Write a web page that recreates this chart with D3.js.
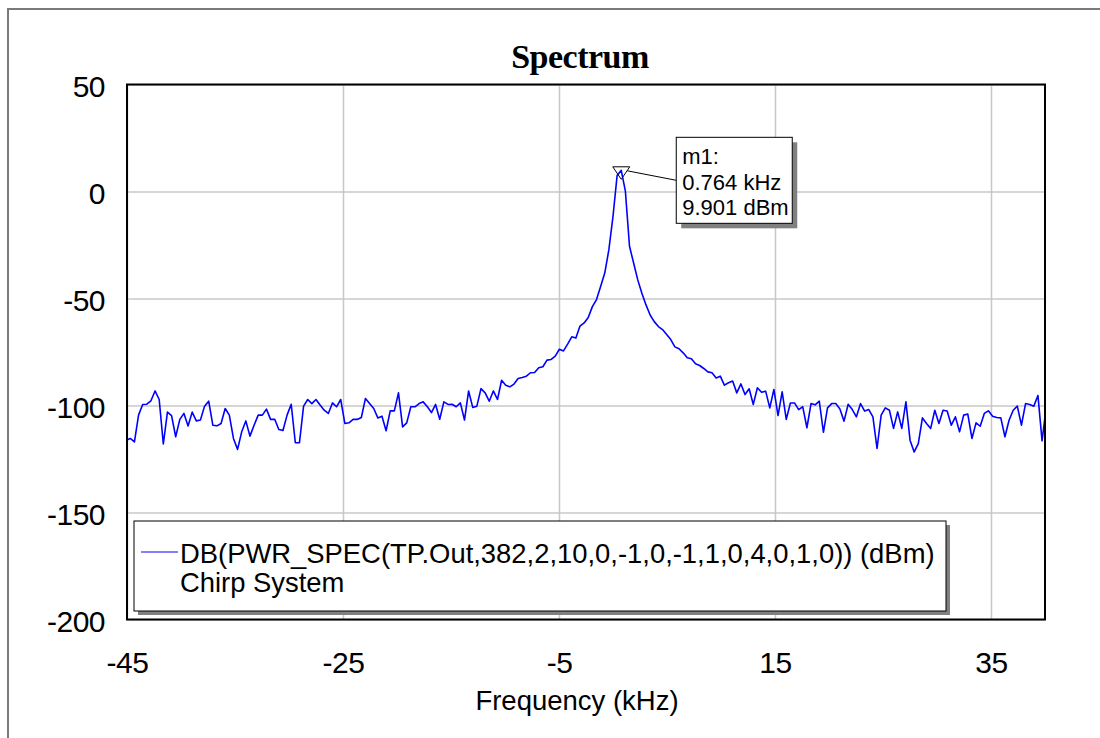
<!DOCTYPE html>
<html>
<head>
<meta charset="utf-8">
<script src="https://cdn.jsdelivr.net/npm/d3@7"></script>
<style>
  body { margin: 0; background: #fff; }
  text { font-family: "Liberation Sans", Arial, sans-serif; fill: #000; }
</style>
</head>
<body>
<svg id="chart" width="1100" height="738"></svg>
<script>
// spectrum bins: frequency of bin k = peakFreq + k * binStep, k starts at firstBin
var peakFreq = 0.764, binStep = 0.382, firstBin = -120;

// power (dBm), one value per bin, left to right
var power = [
  -116.2,-115.4,-117.0,-104.5,-99.5,-99.4,-97.8,-93.2,-97.2,-118.0,
  -103.1,-104.7,-114.6,-106.5,-103.7,-109.6,-103.1,-107.2,-106.8,-100.3,
  -98.0,-109.2,-109.5,-108.4,-101.4,-104.5,-115.4,-120.5,-112.3,-107.2,
  -114.3,-109.2,-104.5,-104.5,-101.7,-106.5,-106.4,-111.2,-111.7,-104.5,
  -99.4,-117.4,-117.4,-100.3,-97.2,-99.1,-97.2,-99.8,-102.2,-103.7,
  -98.8,-100.6,-97.2,-108.4,-108.1,-106.5,-106.5,-105.6,-96.7,-99.1,
  -101.4,-105.8,-105.0,-111.8,-102.5,-102.5,-94.1,-110.0,-108.1,-100.6,
  -100.6,-99.1,-98.3,-100.6,-103.3,-99.5,-106.4,-98.3,-99.5,-99.4,
  -100.6,-98.8,-106.8,-93.2,-100.9,-100.3,-92.1,-94.1,-98.0,-93.2,
  -97.2,-88.2,-90.5,-91.3,-90.0,-87.4,-86.9,-86.3,-84.7,-84.6,
  -82.4,-81.9,-78.8,-78.5,-76.9,-73.7,-74.5,-71.3,-67.9,-68.5,
  -62.9,-61.4,-58.9,-53.8,-50.5,-44.4,-38.1,-27.2,-11.6,7.5,
  9.901,0.2,-25.6,-33.4,-41.3,-47.5,-53.0,-57.7,-60.8,-63.1,
  -64.5,-66.8,-69.2,-72.6,-73.5,-75.4,-77.7,-78.2,-80.5,-81.3,
  -82.7,-84.3,-84.7,-87.1,-86.3,-90.5,-89.4,-88.6,-94.1,-89.9,
  -94.9,-92.2,-99.5,-91.7,-93.8,-93.3,-101.1,-92.5,-104.7,-93.6,
  -106.5,-98.8,-98.8,-101.9,-100.6,-110.4,-99.1,-99.7,-98.0,-112.5,
  -101.1,-99.1,-99.1,-101.6,-107.3,-99.4,-101.9,-105.3,-99.1,-102.6,
  -101.9,-105.3,-120.1,-104.5,-101.1,-102.2,-110.7,-103.0,-110.7,-98.3,
  -116.2,-121.7,-117.8,-105.8,-108.4,-110.7,-102.2,-108.4,-102.2,-102.6,
  -109.2,-105.3,-112.3,-104.5,-104.0,-115.4,-108.1,-109.7,-103.7,-102.5,
  -105.0,-105.6,-105.8,-114.6,-106.9,-102.2,-100.3,-109.2,-99.1,-99.5,
  -100.3,-95.3,-116.5,-100.6
];

var xTicks = [-45, -25, -5, 15, 35];
var yTicks = [50, 0, -50, -100, -150, -200];

var marker = { name: "m1:", freq: 0.764, value: 9.901 };
var legendLines = ["DB(PWR_SPEC(TP.Out,382,2,10,0,-1,0,-1,1,0,4,0,1,0)) (dBm)", "Chirp System"];

var data = power.map(function (p, i) {
  return { f: peakFreq + (firstBin + i) * binStep, p: p };
});

var margin = {top: 84.5, left: 127},
    width = 918,
    height = 535;

var svg = d3.select("#chart");

// outer frame
svg.append("path")
  .attr("d", "M8,738V9H1100")
  .attr("fill", "none")
  .attr("stroke", "#7a7a7a")
  .attr("stroke-width", 2);

svg.append("text")
  .attr("x", 580)
  .attr("y", 68)
  .attr("text-anchor", "middle")
  .style("font-family", "'Liberation Serif', 'Times New Roman', serif")
  .style("font-weight", "bold")
  .style("font-size", "34px")
  .style("letter-spacing", "-0.5px")
  .text("Spectrum");

var g = svg.append("g")
  .attr("transform", "translate(" + margin.left + "," + margin.top + ")");

var x = d3.scaleLinear().domain([-45, 40]).range([0, width]);
var y = d3.scaleLinear().domain([-200, 50]).range([height, 0]);

// grid
g.append("g")
  .attr("class", "grid")
  .attr("transform", "translate(0," + height + ")")
  .call(d3.axisBottom(x).tickValues(xTicks).tickSize(-height).tickFormat(""))
  .call(function (s) { s.select(".domain").remove(); });

g.append("g")
  .attr("class", "grid")
  .call(d3.axisLeft(y).tickValues(yTicks).tickSize(-width).tickFormat(""))
  .call(function (s) { s.select(".domain").remove(); });

g.selectAll(".grid line")
  .attr("stroke", "#c8c8c8")
  .attr("stroke-width", 1.5);

// tick labels (plain hyphen minus, like the original)
var plain = function (d) { return String(d); };

var xAxis = g.append("g")
  .attr("transform", "translate(0," + height + ")")
  .call(d3.axisBottom(x).tickValues(xTicks).tickSize(0).tickPadding(32).tickFormat(plain));

var yAxis = g.append("g")
  .call(d3.axisLeft(y).tickValues(yTicks).tickSize(0).tickPadding(22).tickFormat(plain));

[xAxis, yAxis].forEach(function (a) {
  a.select(".domain").remove();
  a.selectAll("text")
    .style("font-family", "'Liberation Sans', Arial, sans-serif")
    .style("font-size", "30px")
    .style("letter-spacing", "-0.5px")
    .attr("fill", "#000");
});
yAxis.selectAll("text").attr("dy", "0.40em");

g.append("text")
  .attr("x", width / 2 - 9)
  .attr("y", height + 90)
  .attr("text-anchor", "middle")
  .style("font-size", "27.5px")
  .text("Frequency (kHz)");

// trace
g.append("clipPath")
  .attr("id", "plotclip")
  .append("rect")
  .attr("width", width)
  .attr("height", height);

var line = d3.line()
  .x(function (d) { return x(d.f); })
  .y(function (d) { return y(d.p); });

g.append("path")
  .datum(data)
  .attr("clip-path", "url(#plotclip)")
  .attr("fill", "none")
  .attr("stroke", "#0000ff")
  .attr("stroke-width", 1.6)
  .attr("stroke-linejoin", "round")
  .attr("d", line);

// plot frame
g.append("rect")
  .attr("width", width)
  .attr("height", height)
  .attr("fill", "none")
  .attr("stroke", "#000")
  .attr("stroke-width", 2);

// marker
var mx = x(marker.freq), my = y(marker.value);
var boxX = mx + 55, boxY = my - 33, boxW = 116, boxH = 86;

g.append("path")
  .attr("d", "M" + (mx - 8.5) + "," + (my - 3.5) + "H" + (mx + 8.5) + "L" + mx + "," + (my + 9) + "Z")
  .attr("fill", "none")
  .attr("stroke", "#000")
  .attr("stroke-width", 1);

g.append("line")
  .attr("x1", mx + 6).attr("y1", my + 0.5)
  .attr("x2", boxX).attr("y2", boxY + 43)
  .attr("stroke", "#000")
  .attr("stroke-width", 1);

g.append("rect")
  .attr("x", boxX + 5).attr("y", boxY + 5)
  .attr("width", boxW).attr("height", boxH)
  .attr("fill", "#808080");

g.append("rect")
  .attr("x", boxX).attr("y", boxY)
  .attr("width", boxW).attr("height", boxH)
  .attr("fill", "#fff")
  .attr("stroke", "#000")
  .attr("stroke-width", 1);

var markerText = [marker.name, marker.freq + " kHz", marker.value + " dBm"];
g.selectAll(".mtext")
  .data(markerText)
  .enter().append("text")
    .attr("class", "mtext")
    .attr("x", boxX + 6)
    .attr("y", function (d, i) { return boxY + 27 + i * 25.5; })
    .style("font-size", "22px")
    .text(function (d) { return d; });

// legend
var lx = 7, ly = 436.5, lw = 812, lh = 90;

g.append("rect")
  .attr("x", lx + 4).attr("y", ly + 4)
  .attr("width", lw).attr("height", lh)
  .attr("fill", "#808080");

g.append("rect")
  .attr("x", lx).attr("y", ly)
  .attr("width", lw).attr("height", lh)
  .attr("fill", "#fff")
  .attr("stroke", "#000")
  .attr("stroke-width", 1);

g.append("line")
  .attr("x1", lx + 7).attr("x2", lx + 44)
  .attr("y1", ly + 31).attr("y2", ly + 31)
  .attr("stroke", "#0000ff")
  .attr("stroke-width", 1.2);

g.selectAll(".ltext")
  .data(legendLines)
  .enter().append("text")
    .attr("class", "ltext")
    .attr("x", lx + 46)
    .attr("y", function (d, i) { return ly + 42 + i * 29; })
    .style("font-size", "27.4px")
    .text(function (d) { return d; });
</script>
</body>
</html>
